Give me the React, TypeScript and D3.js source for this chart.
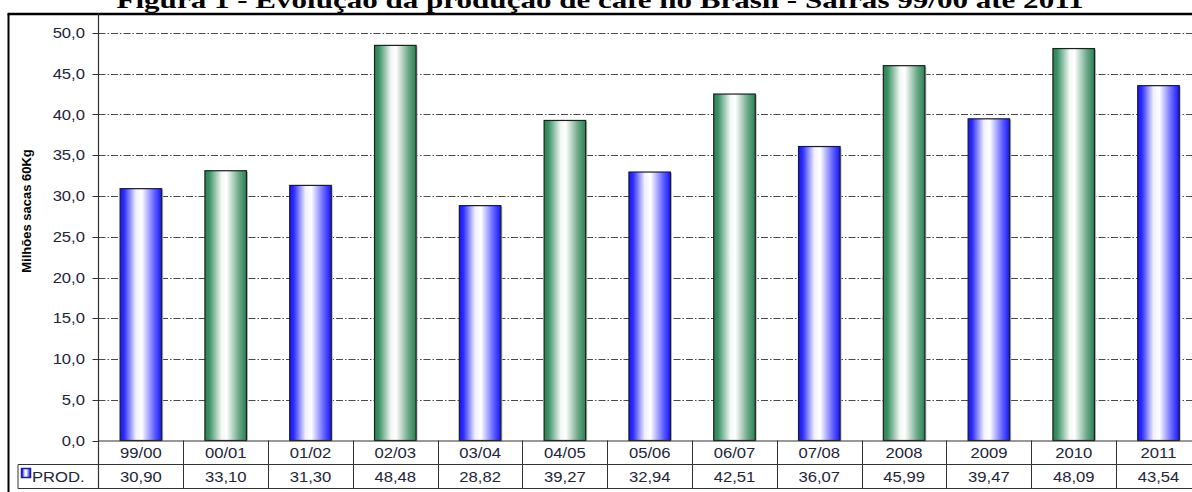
import React from "react";
import * as d3 from "d3";

// Coffee production, million 60 kg bags, per harvest
const categories = ["99/00", "00/01", "01/02", "02/03", "03/04", "04/05", "05/06", "06/07", "07/08", "2008", "2009", "2010", "2011"];
const production = [30.9, 33.1, 31.3, 48.48, 28.82, 39.27, 32.94, 42.51, 36.07, 45.99, 39.47, 48.09, 43.54];
const yTicks = [0, 5, 10, 15, 20, 25, 30, 35, 40, 45, 50];

const title = "Figura 1 - Evolução da produção de café no Brasil - Safras 99/00 até 2011";
const yTitle = "Milhões sacas 60Kg";
const seriesName = "PROD.";

const W = 1192;
const H = 492;
const frameX = 8.5;
const frameY = 14;
const axisX = 98.5;
const colW = 84.8;
const plotTop = 33;
const plotBottom = 440.5;
const rowMid = 464.5;
const rowBottom = 488.5;

const fmt = (v: number, d: number) => v.toFixed(d).replace(".", ",");

const SX = 1.11;
const sans = "Arial, 'Liberation Sans', sans-serif";
const textColor = "#22253a";

function SText({ x, y, anchor, children, size = 15 }: { x: number; y: number; anchor: "start" | "middle" | "end"; children: React.ReactNode; size?: number }) {
  return (
    <text
      transform={`translate(${x},${y}) scale(${SX},1)`}
      textAnchor={anchor}
      fontFamily={sans}
      fontSize={size}
      fill={textColor}
    >
      {children}
    </text>
  );
}

export default function App() {
  const x = d3
    .scaleBand<string>()
    .domain(categories)
    .range([axisX, axisX + colW * categories.length])
    .padding(0);
  const y = d3.scaleLinear().domain([0, 50]).range([plotBottom, plotTop]);
  const barW = x.bandwidth() * 0.49;
  const right = axisX + colW * categories.length;

  return (
    <svg width={W} height={H} style={{ position: "absolute", left: 0, top: 0, background: "#fff" }}>
      <defs>
        <linearGradient id="gBlue" x1="0" x2="1" y1="0" y2="0">
          <stop offset="0" stopColor="#1414ff" />
          <stop offset="0.1" stopColor="#2e2eff" />
          <stop offset="0.38" stopColor="#f0f0ff" />
          <stop offset="0.52" stopColor="#ffffff" />
          <stop offset="0.82" stopColor="#6464ff" />
          <stop offset="1" stopColor="#1414ff" />
        </linearGradient>
        <linearGradient id="gGreen" x1="0" x2="1" y1="0" y2="0">
          <stop offset="0" stopColor="#2a8252" />
          <stop offset="0.1" stopColor="#3a9064" />
          <stop offset="0.4" stopColor="#f3f8f5" />
          <stop offset="0.52" stopColor="#ffffff" />
          <stop offset="0.82" stopColor="#6aa686" />
          <stop offset="1" stopColor="#2a8252" />
        </linearGradient>
      </defs>

      {/* title */}
      <text
        x={600}
        y={8}
        textAnchor="middle"
        fontFamily="'Liberation Serif', 'Times New Roman', serif"
        fontWeight="bold"
        fontSize={24}
        textLength={967}
        lengthAdjust="spacingAndGlyphs"
        fill="#000"
      >
        {title}
      </text>

      {/* frame */}
      <line x1={frameX - 1} x2={W} y1={frameY} y2={frameY} stroke="#000" strokeWidth={2.5} />
      <line x1={frameX} x2={frameX} y1={frameY} y2={H} stroke="#000" strokeWidth={2} />

      {/* gridlines */}
      {yTicks.filter((t) => t > 0).map((t) => (
        <line
          key={"g" + t}
          x1={axisX}
          x2={right}
          y1={Math.round(y(t)) + 0.5}
          y2={Math.round(y(t)) + 0.5}
          stroke="#4a4a4a"
          strokeWidth={1}
          strokeDasharray="7,2,1.5,2"
        />
      ))}

      {/* y ticks and labels */}
      {yTicks.map((t) => (
        <g key={"t" + t}>
          <line x1={axisX - 6} x2={axisX} y1={Math.round(y(t)) + 0.5} y2={Math.round(y(t)) + 0.5} stroke="#333" />
          <SText x={85} y={y(t) + 5} anchor="end">
            {fmt(t, 1)}
          </SText>
        </g>
      ))}

      {/* y title */}
      <text
        transform={`translate(31,211) rotate(-90)`}
        textAnchor="middle"
        fontFamily={sans}
        fontWeight="bold"
        fontSize={13}
        fill="#000"
      >
        {yTitle}
      </text>

      {/* bars */}
      {categories.map((c, i) => {
        const cx = (x(c) as number) + x.bandwidth() / 2;
        const top = y(production[i]);
        return (
          <g key={"b" + c}>
            <rect x={cx - barW / 2 + 1.5} y={top + 1} width={barW} height={plotBottom - top - 1} fill="#bdbdbd" />
            <rect
              x={cx - barW / 2}
              y={top}
              width={barW}
              height={plotBottom - top}
              fill={i % 2 === 0 ? "url(#gBlue)" : "url(#gGreen)"}
              stroke="#1e1e1e"
              strokeWidth={1.2}
            />
          </g>
        );
      })}

      {/* axes */}
      <line x1={axisX} x2={axisX} y1={frameY} y2={rowBottom} stroke="#333" strokeWidth={1.2} />
      <line x1={axisX} x2={right} y1={plotBottom + 0.5} y2={plotBottom + 0.5} stroke="#333" strokeWidth={1.2} />

      {/* data table */}
      <line x1={18} x2={right} y1={rowMid} y2={rowMid} stroke="#333" />
      <line x1={18} x2={right} y1={rowBottom} y2={rowBottom} stroke="#333" />
      <line x1={18} x2={18} y1={rowMid} y2={rowBottom} stroke="#333" />
      {categories.map((c, i) => {
        const x0 = x(c) as number;
        const cx = x0 + x.bandwidth() / 2;
        return (
          <g key={"c" + c}>
            {i > 0 && <line x1={Math.round(x0) + 0.5} x2={Math.round(x0) + 0.5} y1={plotBottom} y2={rowBottom} stroke="#333" />}
            <SText x={cx} y={458} anchor="middle">
              {c}
            </SText>
            <SText x={cx} y={482} anchor="middle">
              {fmt(production[i], 2)}
            </SText>
          </g>
        );
      })}
      <line x1={right} x2={right} y1={plotBottom} y2={rowBottom} stroke="#333" />

      {/* legend key */}
      <rect x={21.5} y={468.5} width={9} height={9} fill="url(#gBlue)" stroke="#1e1e8e" strokeWidth={1.5} />
      <SText x={32} y={482} anchor="start">
        {seriesName}
      </SText>
    </svg>
  );
}
